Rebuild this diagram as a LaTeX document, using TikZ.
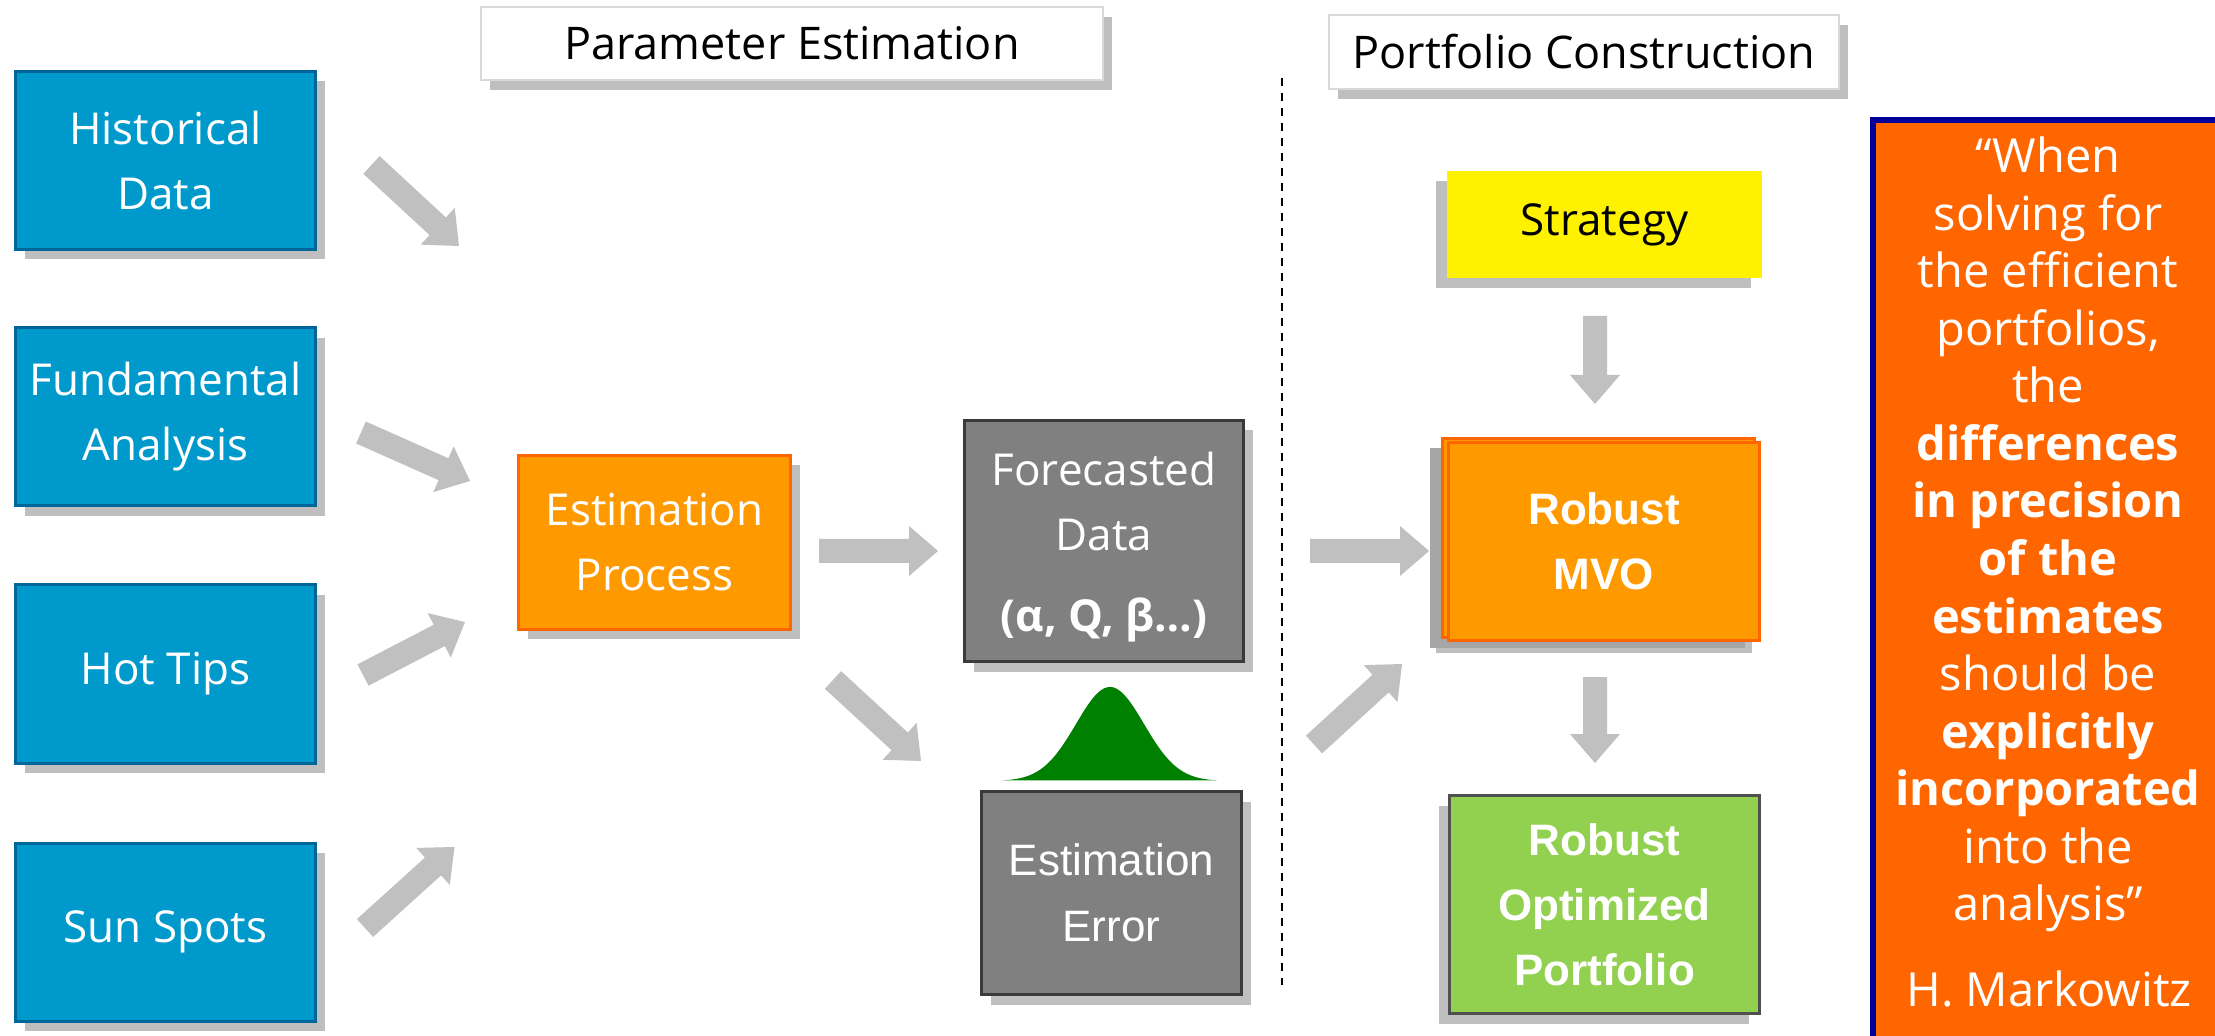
\documentclass[tikz,border=0pt]{standalone}
\usepackage{fontspec}
\setmainfont{Open Sans}
\newfontfamily\arialf{Liberation Sans}
\usetikzlibrary{calc,shadows}

\definecolor{shd}{HTML}{BFBFBF}
\definecolor{shddark}{HTML}{A6A6A6}
\definecolor{arrowgray}{HTML}{C0C0C0}
\definecolor{bluefill}{HTML}{0099CC}
\definecolor{blueedge}{HTML}{006699}
\definecolor{orfill}{HTML}{FF9900}
\definecolor{oredge}{HTML}{FF6600}
\definecolor{grayfill}{HTML}{808080}
\definecolor{grayedge}{HTML}{3A3A3A}
\definecolor{greenfill}{HTML}{92D050}
\definecolor{greenedge}{HTML}{505050}
\definecolor{quotefill}{HTML}{FF6600}
\definecolor{quoteedge}{HTML}{000099}
\definecolor{bellgreen}{HTML}{008000}
\definecolor{labeledge}{HTML}{D9D9D9}

% block arrow from tail #1 to tip #2 (shaft 24px, head 50px wide, 29px long)
\newcommand\blkarrow[2]{%
  \coordinate (neck-#1) at ($(#2)!14.5pt!(#1)$);
  \fill[arrowgray] ($(#1)!6pt!90:(#2)$) -- ($(neck-#1)!6pt!90:(#2)$)
    -- ($(neck-#1)!12.5pt!90:(#2)$) -- (#2)
    -- ($(neck-#1)!12.5pt!-90:(#2)$) -- ($(neck-#1)!6pt!-90:(#2)$)
    -- ($(#1)!6pt!-90:(#2)$) -- cycle;}

\begin{document}
\begin{tikzpicture}[x=0.5pt, y=-0.5pt,
  basebox/.style={rectangle, inner sep=0pt, outer sep=0pt, align=center,
    font=\fontsize{22pt}{32.5pt}\selectfont},
  shadowse/.style={drop shadow={shadow xshift=4.5pt, shadow yshift=-5pt, fill=shd, opacity=1}},
  shadowsw/.style={drop shadow={shadow xshift=-5.5pt, shadow yshift=-5pt, fill=shd, opacity=1}},
  bluebox/.style={basebox, shadowse, fill=bluefill, draw=blueedge, line width=1.5pt, text=white,
    minimum width=150pt, minimum height=89pt},
  labelbox/.style={basebox, shadowse, fill=white, draw=labeledge, line width=1pt, text=black,
    font=\fontsize{22.5pt}{27pt}\selectfont},
  procbox/.style={basebox, shadowse, fill=orfill, draw=oredge, line width=1.5pt, text=white},
  graybox/.style={basebox, shadowse, fill=grayfill, draw=grayedge, line width=1.5pt, text=white},
  qline/.style={anchor=base, inner sep=0pt, text=white, font=\fontsize{23.5pt}{28pt}\selectfont},
  divider/.style={black, line width=1pt, dash pattern=on 4pt off 3.5pt}
]
\useasboundingbox (0,0) rectangle (2215,1036);
\fill[white] (0,0) rectangle (2215,1036);

% input sources
\node[bluebox] (hist) at (165.5,160.5) {Historical\\Data};
\node[bluebox] (fund) at (165.5,417) {Fundamental\\Analysis};
\node[bluebox] (hot)  at (165.5,674) {Hot Tips};
\node[bluebox] (sun)  at (165.5,932) {Sun Spots};

% section headings
\node[labelbox, minimum width=311pt, minimum height=36.5pt] (param) at (792,43.5) {Parameter Estimation};
\node[labelbox, minimum width=255pt, minimum height=37pt] (port) at (1584,52) {Portfolio Construction};

% estimation stage
\node[procbox, minimum width=136pt, minimum height=87pt] (estproc) at (654.5,542.5) {Estimation\\Process};
\node[graybox, minimum width=139.5pt, minimum height=120.5pt] (fore) at (1104,541)
  {\rule{0pt}{22.7pt}Forecasted\\Data\\[8pt]{\bfseries (α, Q, β…)}};
\node[graybox, minimum width=130pt, minimum height=101.5pt, font=\arialf\fontsize{22pt}{33pt}\selectfont]
  (err) at (1111.5,893) {Estimation\\Error};

% bell curve above the error box
\fill[bellgreen] plot[domain=1002:1217, samples=120]
  (\x,{781-94*exp(-0.5*pow((\x-1110)/34,2))}) -- cycle;

% divider between the two stages
\coordinate (divtop) at (1282,78);
\coordinate (divbot) at (1282,985);
\draw[divider] (divtop) -- (divbot);

% portfolio construction stage
\node[basebox, shadowsw, fill=yellow, text=black, minimum width=157.5pt, minimum height=53.5pt]
  (strat) at (1604.5,224.5) {Strategy};

\fill[shd] (1436,452) rectangle (1752,653);
\fill[shddark] (1430,448) rectangle (1745,648);
\filldraw[fill=orfill, draw=oredge, line width=1.5pt] (1442.5,438.5) rectangle (1754.5,637.5);
\node[basebox, fill=orfill, draw=oredge, line width=1.5pt, text=white,
  minimum width=155.5pt, minimum height=99pt, font=\arialf\bfseries\fontsize{22pt}{32.5pt}\selectfont]
  (mvo) at (1604,541.5) {Robust\\MVO};

\node[basebox, shadowsw, fill=greenfill, draw=greenedge, line width=1.5pt, text=white,
  minimum width=155pt, minimum height=109pt, font=\arialf\bfseries\fontsize{22pt}{32.5pt}\selectfont]
  (rop) at (1604.5,904.5) {Robust\\Optimized\\Portfolio};

% quotation panel
\node[rectangle, fill=quotefill, draw=quoteedge, line width=3pt, inner sep=0pt,
  minimum width=182pt, minimum height=470pt] (quote) at (2055,590) {};
\foreach \txt [count=\k from 0] in {“When, solving for, the efficient, {portfolios,}, the,
    \textbf{differences}, \textbf{in precision}, \textbf{of the}, \textbf{estimates},
    should be, \textbf{explicitly}, \textbf{incorporated}, into the, analysis”}
  \node[qline] (q\k) at (2048,{173+57.5*\k}) {\txt};
\node[qline] (author) at (2049,1006) {H. Markowitz};

% flow arrows
\coordinate (a1t) at (371.5,165);  \coordinate (a1h) at (459,246);
\coordinate (a2t) at (361,432.5);  \coordinate (a2h) at (470,481);
\coordinate (a3t) at (363,675);    \coordinate (a3h) at (465,622);
\coordinate (a4t) at (365,928);    \coordinate (a4h) at (454.5,847);
\coordinate (a5t) at (819,551);    \coordinate (a5h) at (938,551);
\coordinate (a6t) at (833,680);    \coordinate (a6h) at (921,761);
\coordinate (a7t) at (1310,551);   \coordinate (a7h) at (1429,551);
\coordinate (a8t) at (1314,744.5); \coordinate (a8h) at (1402,664);
\coordinate (a9t) at (1595,316);   \coordinate (a9h) at (1595,404);
\coordinate (a10t) at (1595,677);  \coordinate (a10h) at (1595,763);
\blkarrow{a1t}{a1h}
\blkarrow{a2t}{a2h}
\blkarrow{a3t}{a3h}
\blkarrow{a4t}{a4h}
\blkarrow{a5t}{a5h}
\blkarrow{a6t}{a6h}
\blkarrow{a7t}{a7h}
\blkarrow{a8t}{a8h}
\blkarrow{a9t}{a9h}
\blkarrow{a10t}{a10h}
\end{tikzpicture}
\end{document}
